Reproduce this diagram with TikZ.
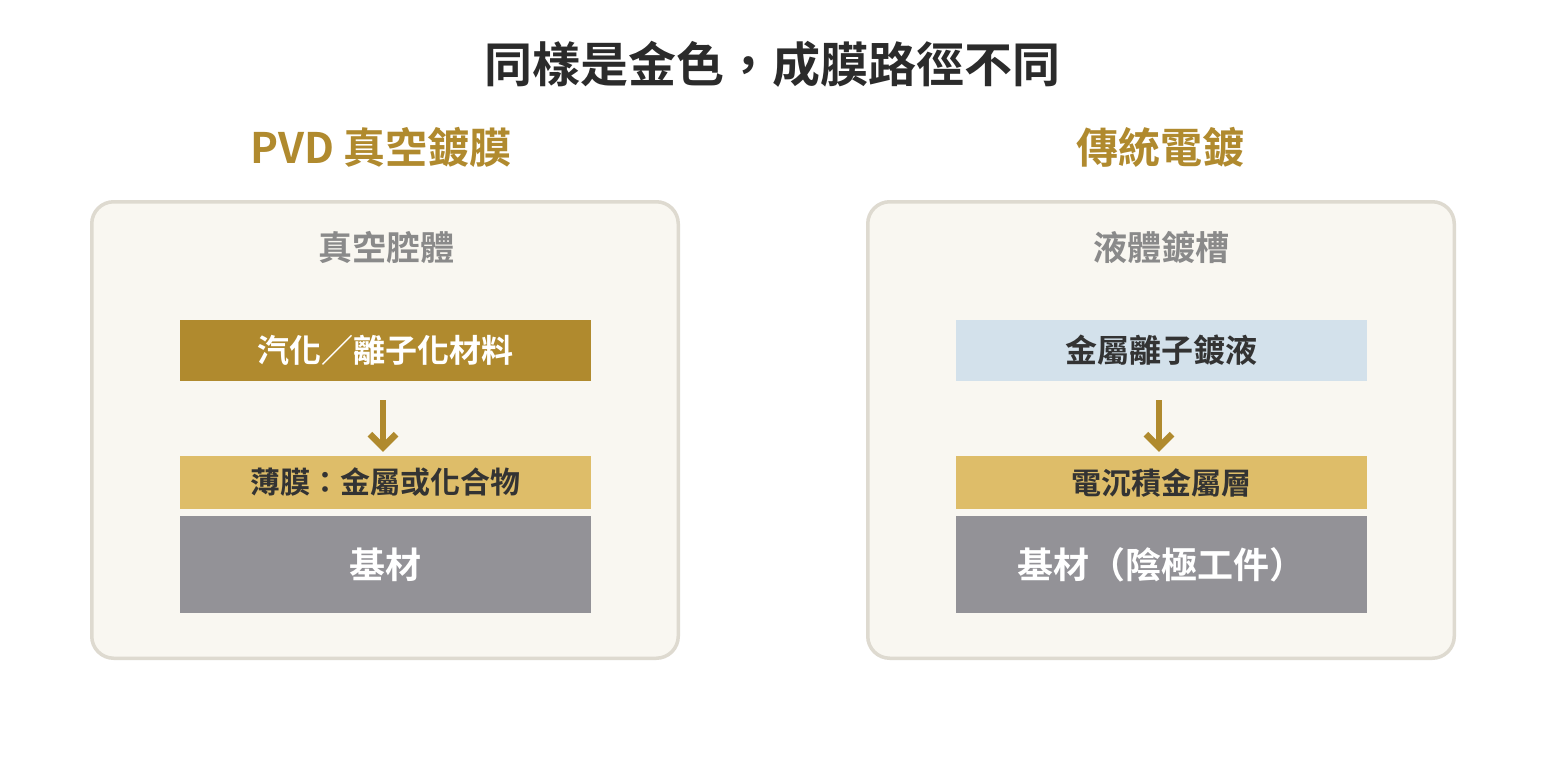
\documentclass[tikz,border=0pt]{standalone}
\usepackage{fontspec}
\setmainfont{Noto Sans CJK TC}[BoldFont={Noto Sans CJK TC Bold}]
\usetikzlibrary{arrows.meta}
\definecolor{gold}{HTML}{B08A2E}
\definecolor{lightgold}{HTML}{DEBD69}
\definecolor{subgray}{HTML}{939297}
\definecolor{lightblue}{HTML}{D3E1EB}
\definecolor{boxfill}{HTML}{F9F7F1}
\definecolor{boxline}{HTML}{DEDAD0}
\definecolor{titledark}{HTML}{2B2B2B}
\definecolor{textdark}{HTML}{333333}
\definecolor{labelgray}{HTML}{8A8A8A}
\tikzset{
  panel/.style={draw=boxline, fill=boxfill, line width=3.5pt, rounded corners=22pt,
    minimum width=586.5pt, minimum height=456.5pt, inner sep=0pt},
  bar/.style={minimum width=411pt, inner sep=0pt, font=\bfseries},
  topbar/.style={bar, minimum height=61pt, font=\bfseries\fontsize{32}{36}\selectfont},
  filmbar/.style={bar, fill=lightgold, minimum height=53pt, text=textdark, font=\bfseries\fontsize{30}{34}\selectfont},
  subbar/.style={bar, fill=subgray, minimum height=97pt, text=white, font=\bfseries\fontsize{36}{40}\selectfont},
  heading/.style={text=gold, font=\bfseries\fontsize{42}{46}\selectfont},
  paneltitle/.style={text=labelgray, font=\bfseries\fontsize{34}{38}\selectfont},
  flow/.style={draw=gold, line width=6pt, -{Straight Barb[length=13pt,width=26pt,line width=6.5pt]}, shorten <=19pt, shorten >=4pt},
}
\begin{document}
\begin{tikzpicture}[x=1pt,y=-1pt]
\useasboundingbox (0,0) rectangle (1546,760);
\fill[white] (0,0) rectangle (1546,760);

\node[text=titledark, font=\bfseries\fontsize{48}{54}\selectfont] (title) at (772,64) {同樣是金色，成膜路徑不同};

\node[heading] (hl) at (381,147) {PVD 真空鍍膜};
\node[heading] (hr) at (1160,147) {傳統電鍍};

\node[panel] (lbox) at (385,430) {};
\node[panel] (rbox) at (1161,430) {};

\node[paneltitle] (lt) at (386,247) {真空腔體};
\node[paneltitle] (rt) at (1161,247) {液體鍍槽};

\node[topbar, fill=gold, text=white] (lsrc) at (385.5,350.5) {汽化／離子化材料};
\node[filmbar] (lfilm) at (385.5,482.5) {薄膜：金屬或化合物};
\node[subbar] (lsub) at (385.5,564.5) {基材};

\node[topbar, fill=lightblue, text=textdark] (rsrc) at (1161.5,350.5) {金屬離子鍍液};
\node[filmbar] (rfilm) at (1161.5,482.5) {電沉積金屬層};
\node[subbar] (rsub) at (1161.5,564.5) {基材（陰極工件）};

\draw[flow] ([xshift=-2.5pt]lsrc.south) -- ([xshift=-2.5pt]lfilm.north);
\draw[flow] ([xshift=-2.5pt]rsrc.south) -- ([xshift=-2.5pt]rfilm.north);
\end{tikzpicture}
\end{document}
